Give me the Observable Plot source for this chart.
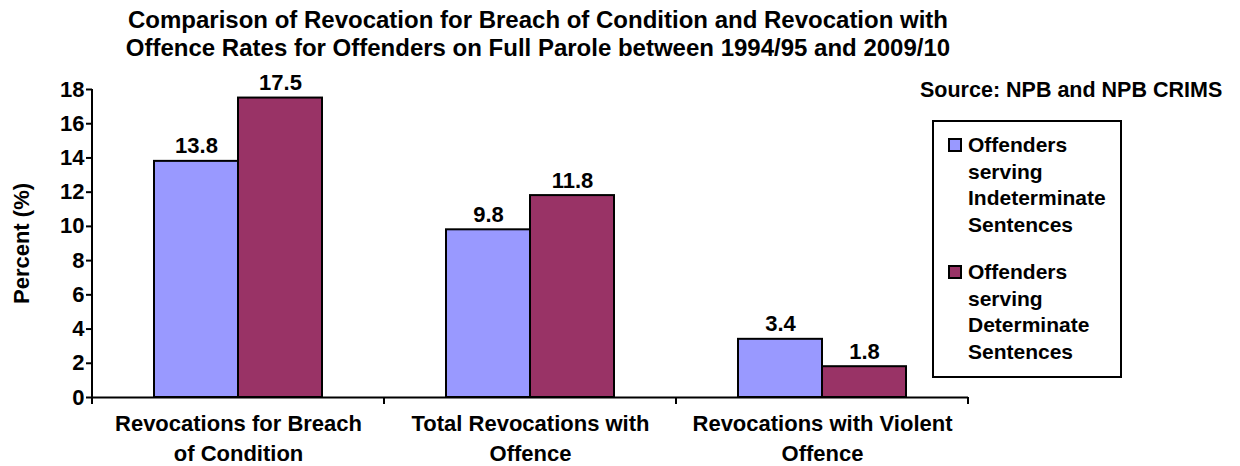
<!DOCTYPE html>
<html>
<head>
<meta charset="utf-8">
<script src="https://cdn.jsdelivr.net/npm/d3@7"></script>
<script src="https://cdn.jsdelivr.net/npm/@observablehq/plot@0.6"></script>
<style>
  body { margin: 0; background: #fff; font-family: "Liberation Sans", Arial, sans-serif; color: #000; }
  #wrap { position: relative; width: 1240px; height: 466px; overflow: hidden; }
  #title { position: absolute; left: 0; top: 6px; width: 1076px; text-align: center; font-weight: bold; font-size: 24px; line-height: 28px; white-space: nowrap; }
  #chart { position: absolute; left: 0; top: 70px; }
  #source { position: absolute; left: 920px; top: 78px; font-weight: bold; font-size: 21.5px; line-height: 24px; white-space: nowrap; }
  #legend { position: absolute; left: 932px; top: 120px; width: 190px; height: 258px; border: 2px solid #000; box-sizing: border-box; padding: 10px 0 0 34px; }
  .item { position: relative; font-weight: bold; font-size: 21px; line-height: 26.5px; margin-bottom: 21px; white-space: nowrap; }
  .sw { position: absolute; left: -20px; top: 6px; width: 10px; height: 10px; border: 2px solid #000; }
</style>
</head>
<body>
<div id="wrap">
  <div id="title">Comparison of Revocation for Breach of Condition and Revocation with<br>Offence Rates for Offenders on Full Parole between 1994/95 and 2009/10</div>
  <div id="chart"></div>
  <div id="source">Source: NPB and NPB CRIMS</div>
  <div id="legend"></div>
</div>
<script>
const categories = ["Revocations for Breach\nof Condition", "Total Revocations with\nOffence", "Revocations with Violent\nOffence"];
const seriesNames = ["Offenders serving Indeterminate Sentences", "Offenders serving Determinate Sentences"];
const legendLines = [["Offenders", "serving", "Indeterminate", "Sentences"], ["Offenders", "serving", "Determinate", "Sentences"]];
const indeterminate = [13.8, 9.8, 3.4];
const determinate = [17.5, 11.8, 1.8];
const yTicks = [0, 2, 4, 6, 8, 10, 12, 14, 16, 18];
const colors = ["#9999FF", "#993366"];

const rows = [];
categories.forEach((c, i) => {
  rows.push({category: c, series: seriesNames[0], value: indeterminate[i]});
  rows.push({category: c, series: seriesNames[1], value: determinate[i]});
});

const plot = Plot.plot({
  width: 1240,
  height: 396,
  marginTop: 19,
  marginBottom: 69,
  marginLeft: 91,
  marginRight: 272,
  style: {fontFamily: "'Liberation Sans', Arial, sans-serif", fontWeight: "bold", color: "#000", background: "transparent", overflow: "visible"},
  fx: {domain: categories, padding: 0, label: null},
  x: {domain: seriesNames, paddingInner: 0, paddingOuter: 0.738, axis: null},
  y: {domain: [0, 18], axis: null},
  color: {domain: seriesNames, range: colors},
  marks: [
    Plot.axisY({ticks: yTicks, tickSize: 6, tickPadding: 2, strokeWidth: 2, fontSize: 22, fontWeight: "bold",
      label: "Percent (%)", labelAnchor: "center", labelArrow: "none", labelOffset: 79}),
    Plot.axisFx({anchor: "bottom", tickSize: 0, tickPadding: 12, fontSize: 22, fontWeight: "bold", lineHeight: 1.36, label: null}),
    Plot.barY(rows, {fx: "category", x: "series", y: "value", fill: "series", stroke: "#000", strokeWidth: 2}),
    Plot.text(rows, {fx: "category", x: "series", y: "value", text: d => d.value.toFixed(1), dy: -15, fontSize: 22, fontWeight: "bold"}),
    Plot.ruleY([0], {stroke: "#000", strokeWidth: 2})
  ]
});

// y-axis line and group boundary ticks, positioned with the plot's own scales
const fx = plot.scale("fx"), y = plot.scale("y");
const svg = d3.select(plot);
const y0 = y.apply(0), yTop = y.apply(18);
const x0 = fx.apply(categories[0]);
svg.append("line").attr("x1", x0).attr("x2", x0).attr("y1", yTop).attr("y2", y0 + 7)
  .attr("stroke", "#000").attr("stroke-width", 2);
const bounds = categories.map(c => fx.apply(c)).concat([fx.apply(categories[categories.length - 1]) + fx.bandwidth]);
bounds.slice(1).forEach(b => {
  svg.append("line").attr("x1", b).attr("x2", b).attr("y1", y0).attr("y2", y0 + 7)
    .attr("stroke", "#000").attr("stroke-width", 2);
});

document.getElementById("chart").appendChild(plot);

const legend = document.getElementById("legend");
seriesNames.forEach((s, i) => {
  const item = document.createElement("div");
  item.className = "item";
  const sw = document.createElement("span");
  sw.className = "sw";
  sw.style.background = colors[i];
  item.appendChild(sw);
  item.insertAdjacentHTML("beforeend", legendLines[i].join("<br>"));
  legend.appendChild(item);
});
</script>
</body>
</html>
